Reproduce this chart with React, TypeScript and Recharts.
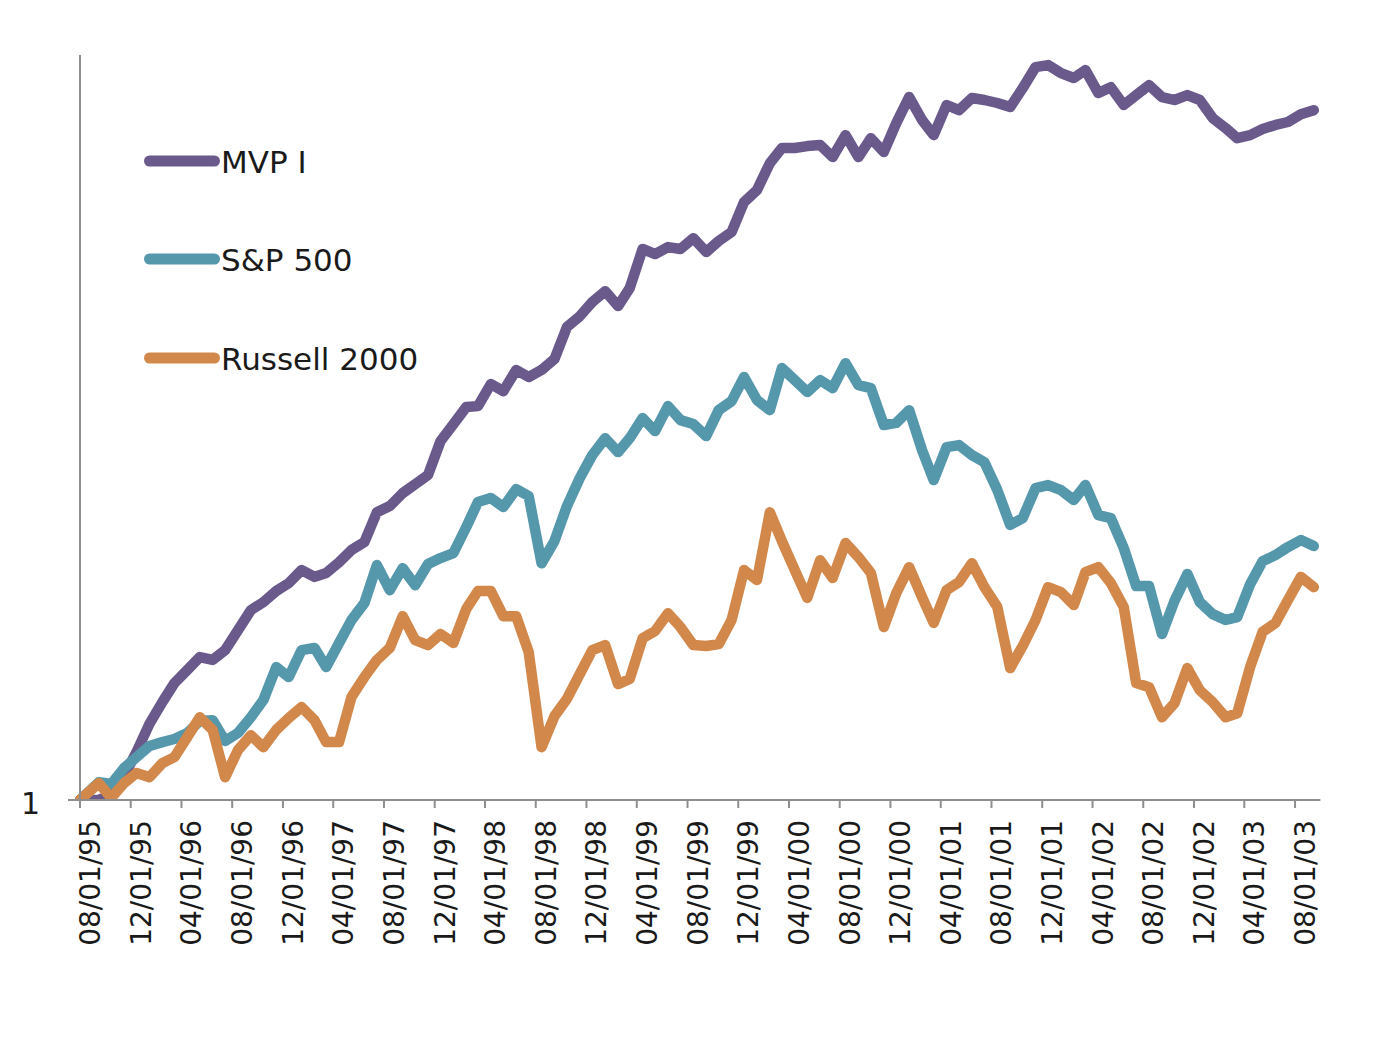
import { LineChart, Line, XAxis, YAxis, Legend } from "recharts"

// point dates: start value on 08/01/95, then mid-month readings to 09/03
const pointDates = [
  "08/01/95", "09/15/95", "10/15/95", "11/15/95", "12/15/95",
  "01/15/96", "02/15/96", "03/15/96", "04/15/96", "05/15/96", "06/15/96",
  "07/15/96", "08/15/96", "09/15/96", "10/15/96", "11/15/96", "12/15/96",
  "01/15/97", "02/15/97", "03/15/97", "04/15/97", "05/15/97", "06/15/97",
  "07/15/97", "08/15/97", "09/15/97", "10/15/97", "11/15/97", "12/15/97",
  "01/15/98", "02/15/98", "03/15/98", "04/15/98", "05/15/98", "06/15/98",
  "07/15/98", "08/15/98", "09/15/98", "10/15/98", "11/15/98", "12/15/98",
  "01/15/99", "02/15/99", "03/15/99", "04/15/99", "05/15/99", "06/15/99",
  "07/15/99", "08/15/99", "09/15/99", "10/15/99", "11/15/99", "12/15/99",
  "01/15/00", "02/15/00", "03/15/00", "04/15/00", "05/15/00", "06/15/00",
  "07/15/00", "08/15/00", "09/15/00", "10/15/00", "11/15/00", "12/15/00",
  "01/15/01", "02/15/01", "03/15/01", "04/15/01", "05/15/01", "06/15/01",
  "07/15/01", "08/15/01", "09/15/01", "10/15/01", "11/15/01", "12/15/01",
  "01/15/02", "02/15/02", "03/15/02", "04/15/02", "05/15/02", "06/15/02",
  "07/15/02", "08/15/02", "09/15/02", "10/15/02", "11/15/02", "12/15/02",
  "01/15/03", "02/15/03", "03/15/03", "04/15/03", "05/15/03", "06/15/03",
  "07/15/03", "08/15/03", "09/15/03",
]

const tickLabels = [
  "08/01/95", "12/01/95", "04/01/96", "08/01/96", "12/01/96", "04/01/97",
  "08/01/97", "12/01/97", "04/01/98", "08/01/98", "12/01/98", "04/01/99",
  "08/01/99", "12/01/99", "04/01/00", "08/01/00", "12/01/00", "04/01/01",
  "08/01/01", "12/01/01", "04/01/02", "08/01/02", "12/01/02", "04/01/03",
  "08/01/03",
]
const axisStart = "08/01/95"
const axisEnd = "10/01/03"

const mvp = [
  1.000, 1.000, 1.011, 1.056, 1.115, 1.188, 1.248, 1.303, 1.342, 1.382,
  1.373, 1.404, 1.469, 1.537, 1.565, 1.605, 1.634, 1.683, 1.657, 1.672,
  1.713, 1.761, 1.793, 1.918, 1.945, 2.003, 2.044, 2.087, 2.253, 2.342,
  2.434, 2.439, 2.564, 2.523, 2.647, 2.605, 2.647, 2.713, 2.917, 2.990,
  3.087, 3.164, 3.059, 3.185, 3.481, 3.441, 3.496, 3.481, 3.567, 3.457,
  3.544, 3.617, 3.871, 3.977, 4.227, 4.375, 4.375, 4.394, 4.404, 4.286,
  4.504, 4.286, 4.473, 4.335, 4.629, 4.910, 4.661, 4.504, 4.822, 4.766,
  4.899, 4.877, 4.844, 4.800, 5.009, 5.254, 5.278, 5.184, 5.126, 5.219,
  4.954, 5.020, 4.822, 4.932, 5.044, 4.910, 4.877, 4.932, 4.877, 4.682,
  4.577, 4.473, 4.504, 4.567, 4.609, 4.640, 4.723, 4.766,
]

const sp500 = [
  1.000, 1.041, 1.037, 1.075, 1.102, 1.130, 1.140, 1.148, 1.164, 1.196,
  1.198, 1.143, 1.164, 1.206, 1.254, 1.351, 1.321, 1.404, 1.411, 1.351,
  1.427, 1.503, 1.562, 1.702, 1.608, 1.690, 1.626, 1.706, 1.729, 1.749,
  1.855, 1.963, 1.981, 1.941, 2.021, 1.990, 1.709, 1.797, 1.945, 2.073,
  2.183, 2.268, 2.198, 2.268, 2.374, 2.305, 2.439, 2.363, 2.342, 2.279,
  2.417, 2.467, 2.605, 2.473, 2.417, 2.658, 2.587, 2.518, 2.587, 2.540,
  2.688, 2.558, 2.540, 2.337, 2.348, 2.417, 2.208, 2.063, 2.223, 2.233,
  2.183, 2.148, 2.017, 1.864, 1.893, 2.026, 2.040, 2.017, 1.972, 2.040,
  1.906, 1.893, 1.769, 1.623, 1.623, 1.456, 1.569, 1.668, 1.565, 1.523,
  1.503, 1.513, 1.630, 1.717, 1.741, 1.773, 1.801, 1.777,
]

const russell = [
  1.000, 1.039, 1.005, 1.039, 1.063, 1.053, 1.087, 1.102, 1.153, 1.206,
  1.172, 1.053, 1.120, 1.158, 1.127, 1.172, 1.204, 1.234, 1.198, 1.140,
  1.140, 1.263, 1.321, 1.373, 1.411, 1.516, 1.436, 1.420, 1.456, 1.427,
  1.541, 1.605, 1.605, 1.516, 1.516, 1.398, 1.127, 1.209, 1.257, 1.330,
  1.404, 1.420, 1.300, 1.315, 1.442, 1.466, 1.526, 1.479, 1.420, 1.417,
  1.423, 1.503, 1.683, 1.645, 1.918, 1.797, 1.683, 1.580, 1.721, 1.653,
  1.789, 1.733, 1.672, 1.479, 1.597, 1.694, 1.583, 1.493, 1.608, 1.638,
  1.709, 1.619, 1.548, 1.348, 1.417, 1.503, 1.619, 1.601, 1.555, 1.675,
  1.694, 1.634, 1.548, 1.303, 1.291, 1.206, 1.245, 1.348, 1.282, 1.248,
  1.206, 1.217, 1.351, 1.463, 1.493, 1.573, 1.657, 1.619,
]

const series = [
  { key: "mvp", name: "MVP I", color: "#6a5a8c" },
  { key: "sp", name: "S&P 500", color: "#5597ab" },
  { key: "russell", name: "Russell 2000", color: "#d2884a" },
]

// "mm/dd/yy" -> UTC ms
const toTime = (s: string) => {
  const [m, d, y] = s.split("/").map(Number)
  return Date.UTC(y < 50 ? 2000 + y : 1900 + y, m - 1, d)
}

const data = pointDates.map((date, i) => ({
  t: toTime(date),
  mvp: mvp[i],
  sp: sp500[i],
  russell: russell[i],
}))

const tickTimes = tickLabels.map(toTime)
const labelOf: Record<number, string> = {}
tickLabels.forEach((l) => (labelOf[toTime(l)] = l))

const FONT = "'DejaVu Sans', sans-serif"
const AXIS = "#8e8e8e"
const TEXT = "#1a1a1a"

function DateTick({ x, y, payload }: any) {
  return (
    <text
      x={x}
      y={y}
      dy={20}
      transform={`rotate(-90 ${x} ${y})`}
      textAnchor="end"
      fontSize={28}
      fontFamily={FONT}
      fill={TEXT}
    >
      {labelOf[payload.value]}
    </text>
  )
}

function ValueTick({ x, y, payload }: any) {
  return (
    <text x={x} y={y} dy={14} textAnchor="end" fontSize={30} fontFamily={FONT} fill={TEXT}>
      {payload.value}
    </text>
  )
}

function LegendBox() {
  return (
    <div style={{ fontFamily: FONT, fontSize: 31, color: TEXT }}>
      {series.map((s) => (
        <div key={s.key} style={{ height: 98.4, display: "flex", alignItems: "center" }}>
          <svg width={76} height={24} style={{ display: "block" }}>
            <line x1={5.5} x2={70.5} y1={12} y2={12} stroke={s.color} strokeWidth={11} strokeLinecap="round" />
          </svg>
          <span style={{ marginLeft: 1, paddingTop: 3, lineHeight: 1, whiteSpace: "nowrap" }}>{s.name}</span>
        </div>
      ))}
    </div>
  )
}

export default function App() {
  return (
    <div style={{ width: 1378, height: 1022 }}>
      <LineChart width={1378} height={1022} data={data} margin={{ top: 47, right: 65.6, bottom: 80, left: 0 }}>
        <XAxis
          dataKey="t"
          type="number"
          domain={[toTime(axisStart), toTime(axisEnd)]}
          ticks={tickTimes}
          interval={0}
          height={150}
          tickSize={8}
          tickMargin={12}
          axisLine={{ stroke: AXIS, strokeWidth: 2 }}
          tickLine={{ stroke: AXIS, strokeWidth: 2 }}
          tick={(p: any) => <DateTick {...p} />}
        />
        <YAxis
          type="number"
          scale="log"
          domain={[1, 5.4]}
          ticks={[1]}
          allowDataOverflow
          width={72}
          tickSize={12}
          tickMargin={28}
          axisLine={{ stroke: AXIS, strokeWidth: 2 }}
          tickLine={{ stroke: AXIS, strokeWidth: 2 }}
          tick={(p: any) => <ValueTick {...p} />}
        />
        <Legend
          layout="vertical"
          align="center"
          verticalAlign="middle"
          content={() => <LegendBox />}
          wrapperStyle={{ left: 136, top: 103.6, width: 400 }}
        />
        {series.map((s) => (
          <Line
            key={s.key}
            type="linear"
            dataKey={s.key}
            name={s.name}
            stroke={s.color}
            strokeWidth={10.5}
            strokeLinecap="round"
            strokeLinejoin="round"
            dot={false}
            activeDot={false}
            isAnimationActive={false}
          />
        ))}
      </LineChart>
    </div>
  )
}
